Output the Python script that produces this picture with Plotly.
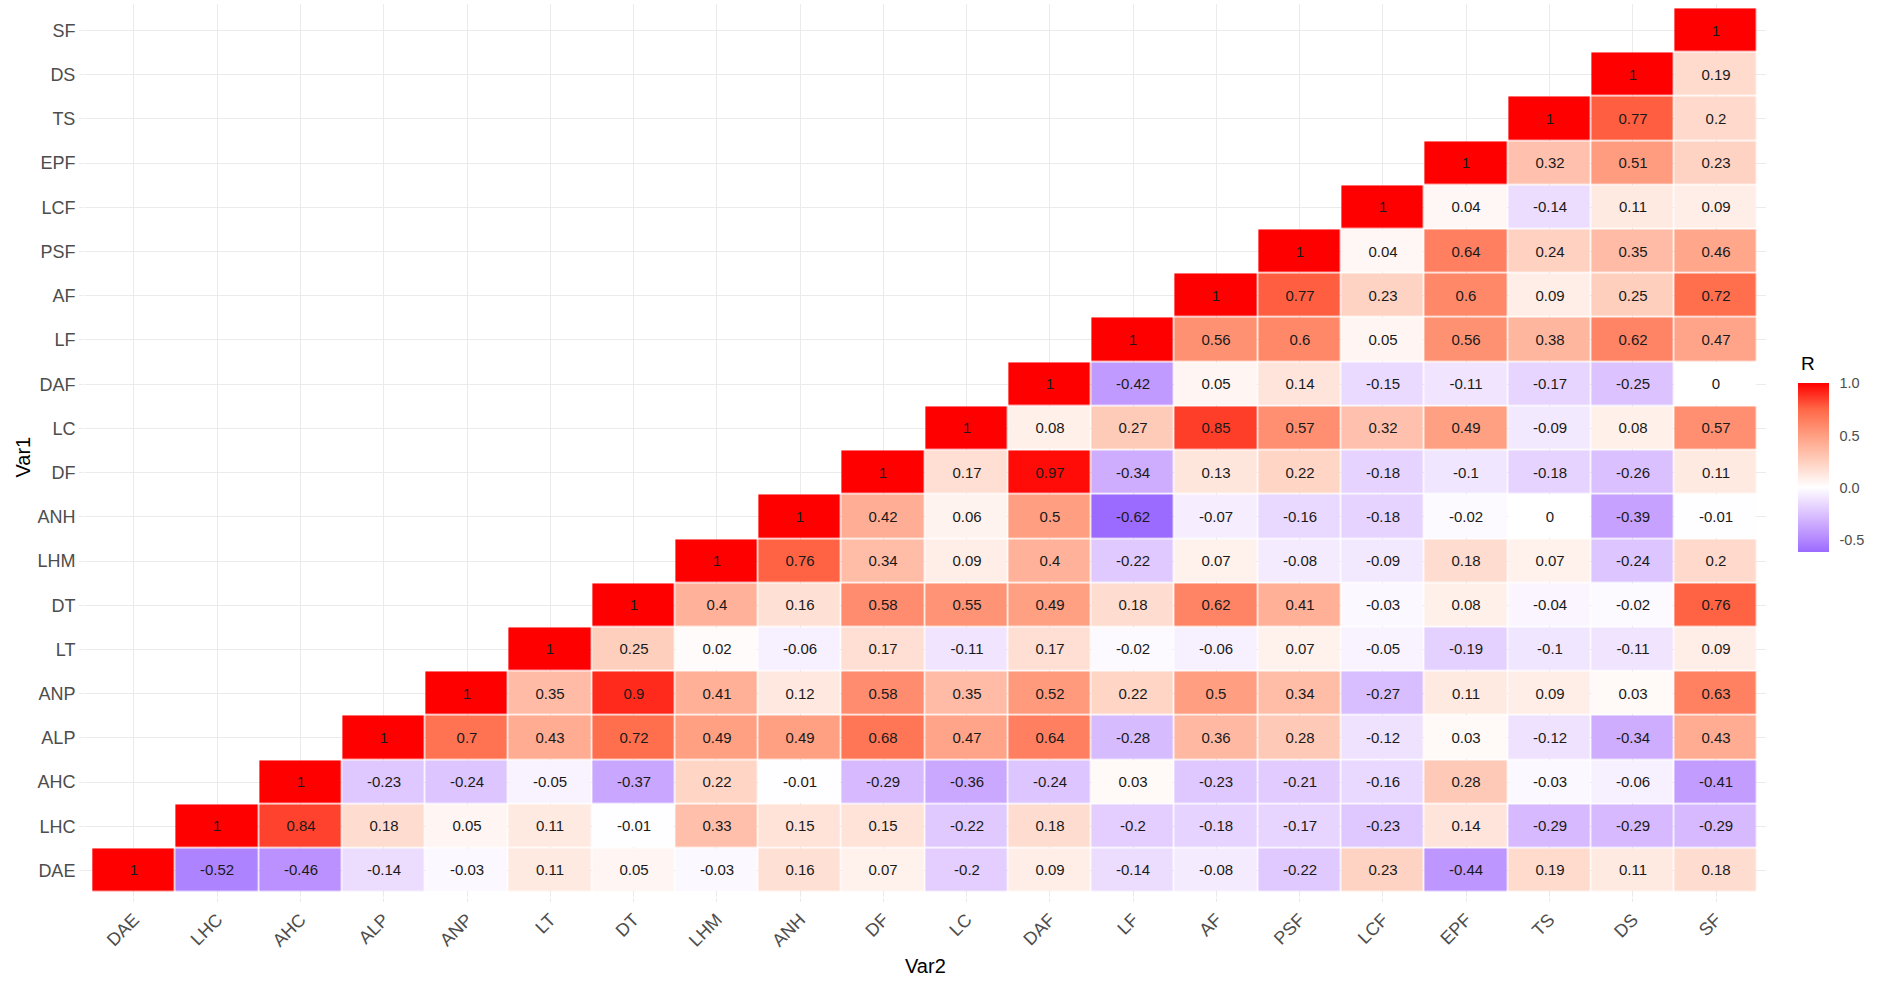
import plotly.graph_objects as go

variables = ["DAE", "LHC", "AHC", "ALP", "ANP", "LT", "DT", "LHM", "ANH", "DF",
             "LC", "DAF", "LF", "AF", "PSF", "LCF", "EPF", "TS", "DS", "SF"]

# each row (Var1) lists correlations from the diagonal to the right (Var2 = same var ... SF)
r_DAE = [1, -0.52, -0.46, -0.14, -0.03, 0.11, 0.05, -0.03, 0.16, 0.07, -0.2, 0.09, -0.14, -0.08, -0.22, 0.23, -0.44, 0.19, 0.11, 0.18]
r_LHC = [1, 0.84, 0.18, 0.05, 0.11, -0.01, 0.33, 0.15, 0.15, -0.22, 0.18, -0.2, -0.18, -0.17, -0.23, 0.14, -0.29, -0.29, -0.29]
r_AHC = [1, -0.23, -0.24, -0.05, -0.37, 0.22, -0.01, -0.29, -0.36, -0.24, 0.03, -0.23, -0.21, -0.16, 0.28, -0.03, -0.06, -0.41]
r_ALP = [1, 0.7, 0.43, 0.72, 0.49, 0.49, 0.68, 0.47, 0.64, -0.28, 0.36, 0.28, -0.12, 0.03, -0.12, -0.34, 0.43]
r_ANP = [1, 0.35, 0.9, 0.41, 0.12, 0.58, 0.35, 0.52, 0.22, 0.5, 0.34, -0.27, 0.11, 0.09, 0.03, 0.63]
r_LT = [1, 0.25, 0.02, -0.06, 0.17, -0.11, 0.17, -0.02, -0.06, 0.07, -0.05, -0.19, -0.1, -0.11, 0.09]
r_DT = [1, 0.4, 0.16, 0.58, 0.55, 0.49, 0.18, 0.62, 0.41, -0.03, 0.08, -0.04, -0.02, 0.76]
r_LHM = [1, 0.76, 0.34, 0.09, 0.4, -0.22, 0.07, -0.08, -0.09, 0.18, 0.07, -0.24, 0.2]
r_ANH = [1, 0.42, 0.06, 0.5, -0.62, -0.07, -0.16, -0.18, -0.02, 0, -0.39, -0.01]
r_DF = [1, 0.17, 0.97, -0.34, 0.13, 0.22, -0.18, -0.1, -0.18, -0.26, 0.11]
r_LC = [1, 0.08, 0.27, 0.85, 0.57, 0.32, 0.49, -0.09, 0.08, 0.57]
r_DAF = [1, -0.42, 0.05, 0.14, -0.15, -0.11, -0.17, -0.25, 0]
r_LF = [1, 0.56, 0.6, 0.05, 0.56, 0.38, 0.62, 0.47]
r_AF = [1, 0.77, 0.23, 0.6, 0.09, 0.25, 0.72]
r_PSF = [1, 0.04, 0.64, 0.24, 0.35, 0.46]
r_LCF = [1, 0.04, -0.14, 0.11, 0.09]
r_EPF = [1, 0.32, 0.51, 0.23]
r_TS = [1, 0.77, 0.2]
r_DS = [1, 0.19]
r_SF = [1]

rows = [r_DAE, r_LHC, r_AHC, r_ALP, r_ANP, r_LT, r_DT, r_LHM, r_ANH, r_DF,
        r_LC, r_DAF, r_LF, r_AF, r_PSF, r_LCF, r_EPF, r_TS, r_DS, r_SF]

n = len(variables)
z = []
txt = []
for i, row in enumerate(rows):
    zr = [None] * i + list(row)
    z.append(zr)
    txt.append(["" if v is None else f"{v:g}" for v in zr])

zmin, zmax = -0.62, 1.0
def pos(v):
    return (v - zmin) / (zmax - zmin)

colorscale = [
    [pos(-0.62), "rgb(155,107,255)"],
    [pos(-0.465), "rgb(185,144,255)"],
    [pos(-0.31), "rgb(211,180,255)"],
    [pos(-0.155), "rgb(234,217,255)"],
    [pos(0.0), "rgb(255,255,255)"],
    [pos(0.25), "rgb(255,207,190)"],
    [pos(0.5), "rgb(255,158,129)"],
    [pos(0.75), "rgb(255,103,70)"],
    [pos(1.0), "rgb(255,0,0)"],
]

FONT = "Liberation Sans, Arial, sans-serif"

W, H = 1888, 981
L, R, T, B = 83.5, 122, 4, 84
pw = W - L - R
ph = H - T - B

def px(xf):
    return (xf - L) / pw

def py(yf):
    return (H - B - yf) / ph

fig = go.Figure(go.Heatmap(
    x=variables, y=variables, z=z, text=txt,
    texttemplate="%{text}", textfont=dict(family=FONT, size=15, color="#1a1a1a"),
    colorscale=colorscale, zmin=zmin, zmax=zmax,
    xgap=1.5, ygap=1.5, hoverinfo="skip",
    colorbar=dict(
        xref="container", yref="container",
        x=1798 / W, xanchor="left",
        y=(H - 467.5 - 46.5) / H, yanchor="middle",
        len=169, lenmode="pixels", thickness=31, thicknessmode="pixels",
        outlinewidth=0, tickvals=[-0.5, 0, 0.5, 1.0], ticktext=["-0.5", "0.0", "0.5", "1.0"],
        ticks="outside", ticklen=8, tickcolor="rgba(0,0,0,0)", tickwidth=1,
        tickfont=dict(family=FONT, size=14.5, color="#4d4d4d"), ypad=0, xpad=0,
    ),
))

fig.update_layout(
    width=W, height=H,
    margin=dict(l=L, r=R, t=T, b=B, autoexpand=False),
    plot_bgcolor="white", paper_bgcolor="white",
    xaxis=dict(categoryorder="array", categoryarray=variables, showgrid=True,
               gridcolor="#ebebeb", gridwidth=1.2, zeroline=False, tickangle=-45,
               ticks="outside", ticklen=4, tickcolor="#ebebeb",
               tickfont=dict(family=FONT, size=18, color="#4d4d4d"),
               range=[-0.6, n - 0.4], automargin=False),
    yaxis=dict(categoryorder="array", categoryarray=variables, showgrid=True,
               gridcolor="#ebebeb", gridwidth=1.2, zeroline=False,
               ticks="outside", ticklen=4, tickcolor="#ebebeb",
               tickfont=dict(family=FONT, size=18, color="#4d4d4d"),
               range=[-0.6, n - 0.4], automargin=False),
    annotations=[
        dict(text="Var2", xref="paper", yref="paper", x=px(925), y=py(966),
             showarrow=False, font=dict(family=FONT, size=20, color="#000000"),
             xanchor="center", yanchor="middle"),
        dict(text="Var1", xref="paper", yref="paper", x=px(22), y=py(457),
             showarrow=False, textangle=-90, font=dict(family=FONT, size=20, color="#000000"),
             xanchor="center", yanchor="middle"),
        dict(text="R", xref="paper", yref="paper", x=px(1799), y=py(363),
             showarrow=False, font=dict(family=FONT, size=19, color="#000000"),
             xanchor="left", yanchor="middle"),
    ],
)

fig.write_html("out.html", config={"displayModeBar": False},
               post_script="document.body.style.margin='0';")
